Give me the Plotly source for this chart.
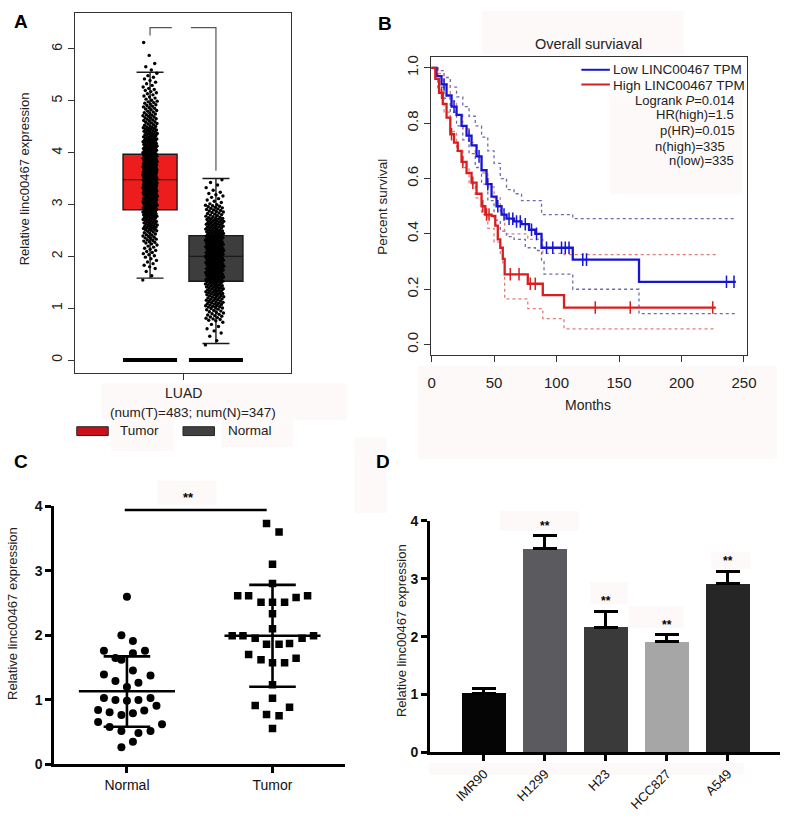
import plotly.graph_objects as go

W, H = 793, 827


def px(x):
    return x / W


def py(y):
    return 1 - y / H


FONT = "Arial, Liberation Sans, sans-serif"

# ---------------- Panel A data (box plot LUAD) ----------------
a_groups = ["Tumor", "Normal"]
a_pos = [0, 1]
a_q1 = [2.90, 1.52]
a_median = [3.48, 2.00]
a_q3 = [3.97, 2.40]
a_lowfence = [1.58, 0.32]
a_highfence = [5.55, 3.50]
a_fill = ["#ee1d1d", "#3d3d3d"]
a_legend_fill = ["#c8111a", "#404040"]
# point density: counts per 0.25 bin
a_bin_width = 0.25
tumor_bin_start = 1.5
tumor_bin_counts = [3, 8, 12, 20, 30, 40, 50, 55, 55, 50, 40, 30, 22, 18, 12, 8, 4, 1, 1]
normal_bin_start = 0.25
normal_bin_counts = [3, 6, 20, 30, 35, 40, 45, 45, 40, 35, 25, 10, 5]
a_sig_top = [6.26, 3.65]

# ---------------- Panel B data (Kaplan-Meier) ----------------
low_t = [0, 4, 8, 12, 16, 20, 24, 28, 32, 36, 40, 44, 48, 52, 56, 60, 66, 72, 78, 83, 88, 113, 166, 243.5]
low_s = [1.0, 0.97, 0.94, 0.90, 0.86, 0.83, 0.79, 0.755, 0.72, 0.68, 0.63, 0.58, 0.535, 0.50, 0.47, 0.455,
         0.445, 0.435, 0.415, 0.40, 0.35, 0.307, 0.227, 0.227]
high_t = [0, 3, 6, 9, 12, 15, 18, 21, 24, 28, 32, 36, 40, 43, 48, 51, 53, 55, 57, 58.5, 77, 89, 106, 227.5]
high_s = [1.0, 0.96, 0.91, 0.87, 0.82, 0.76, 0.73, 0.70, 0.66, 0.62, 0.585, 0.545, 0.50, 0.47, 0.465, 0.43,
          0.38, 0.35, 0.31, 0.254, 0.22, 0.179, 0.134, 0.134]
low_cens = [10, 18, 30, 38, 45, 53, 58, 62, 65, 68, 71, 75, 80, 84, 92, 97, 104, 107, 110, 121, 124, 236, 242]
high_cens = [8, 16, 25, 33, 41, 44, 46, 63, 70, 79, 83, 131, 159, 225]
low_up_t = [0, 5, 10, 15, 20, 25, 30, 35, 40, 45, 50, 55, 60, 66, 72, 88, 113, 243.5]
low_up_s = [1.0, 0.99, 0.965, 0.93, 0.895, 0.86, 0.825, 0.79, 0.75, 0.70, 0.655, 0.60, 0.56, 0.545, 0.52,
            0.47, 0.455, 0.455]
low_lo_t = [0, 5, 10, 15, 20, 25, 30, 35, 40, 45, 50, 55, 60, 66, 75, 83, 88, 90, 113, 166, 243.5]
low_lo_s = [1.0, 0.93, 0.89, 0.84, 0.79, 0.74, 0.69, 0.64, 0.58, 0.52, 0.45, 0.41, 0.39, 0.38, 0.35, 0.34,
            0.30, 0.255, 0.20, 0.112, 0.112]
high_up_t = [0, 5, 10, 15, 20, 25, 30, 35, 40, 45, 50, 55, 58.5, 77, 89, 106, 227.5]
high_up_s = [1.0, 0.98, 0.94, 0.88, 0.83, 0.78, 0.73, 0.68, 0.62, 0.57, 0.53, 0.47, 0.40, 0.38, 0.33, 0.325,
             0.325]
high_lo_t = [0, 5, 10, 15, 20, 25, 30, 35, 40, 45, 50, 55, 57, 58.5, 77, 89, 106, 227.5]
high_lo_s = [1.0, 0.92, 0.84, 0.77, 0.70, 0.64, 0.58, 0.53, 0.47, 0.42, 0.37, 0.33, 0.29, 0.165, 0.13, 0.094,
             0.057, 0.057]
b_xticks = [0, 50, 100, 150, 200, 250]
b_yticks = [0.0, 0.2, 0.4, 0.6, 0.8, 1.0]
b_legend = ["Low LINC00467 TPM", "High LINC00467 TPM"]
b_stats = ["Logrank <i>P</i>=0.014", "HR(high)=1.5", "p(HR)=0.015", "n(high)=335", "n(low)=335"]

# ---------------- Panel C data (scatter) ----------------
c_cats = ["Normal", "Tumor"]
c_normal_vals = [2.595, 2.0, 1.908, 1.756, 1.756, 1.72, 1.644, 1.618, 1.389, 1.45, 1.374, 1.288, 1.262, 1.196,
                 1.023, 0.992, 0.982, 0.992, 1.023, 0.906, 0.84, 0.804, 0.763, 0.789, 0.83, 0.651, 0.616,
                 0.575, 0.514, 0.483, 0.514, 0.346, 0.26]
c_normal_jit = [0, -0.038, 0.041, -0.158, 0.124, 0.041, -0.079, -0.038, -0.158, 0.041, 0.162, -0.079, 0.079, 0,
                -0.158, -0.079, 0, 0.079, 0.162, 0.203, -0.198, -0.119, -0.038, 0.041, 0.119, -0.198, 0.241,
                -0.119, -0.038, 0.079, 0.162, 0.041, -0.038]
c_tumor_vals = [3.73, 3.60, 3.10, 2.80, 2.61, 2.61, 2.51, 2.51, 2.51, 2.585, 2.61, 2.33, 2.10, 1.99, 1.99, 1.95,
                1.86, 1.86, 1.87, 1.95, 1.99, 1.70, 1.62, 1.57, 1.57, 1.64, 1.23, 1.02, 0.91, 0.88, 0.77,
                0.75, 0.55]
c_tumor_jit = [-0.041, 0.045, 0, 0, -0.239, -0.164, -0.079, 0, 0.083, 0.162, 0.241, 0, 0, -0.277, -0.203,
               -0.119, -0.041, 0.045, 0.117, 0.203, 0.282, -0.164, -0.079, 0, 0.083, 0.162, 0, 0, -0.119,
               0.117, -0.041, 0.045, 0]
c_mean = [1.13, 1.99]
c_sd_low = [0.58, 1.20]
c_sd_high = [1.67, 2.78]

# ---------------- Panel D data (bars) ----------------
d_cells = ["IMR90", "H1299", "H23", "HCC827", "A549"]
d_vals = [1.02, 3.52, 2.16, 1.91, 2.91]
d_err = [0.09, 0.23, 0.28, 0.12, 0.22]
d_colors = ["#050505", "#5b5b5f", "#3a3a3a", "#a6a6a6", "#262626"]
d_sig = ["", "**", "**", "**", "**"]

fig = go.Figure()

# ================= Panel A =================
for i in range(2):
    fig.add_trace(go.Box(
        x=[a_pos[i]], q1=[a_q1[i]], median=[a_median[i]], q3=[a_q3[i]],
        lowerfence=[a_lowfence[i]], upperfence=[a_highfence[i]],
        width=0.82, whiskerwidth=0.5, fillcolor=a_fill[i],
        line=dict(color="#1a1a1a", width=1.4), boxpoints=False,
        xaxis="x", yaxis="y", showlegend=False, hoverinfo="skip"))
    # zero bars
    fig.add_trace(go.Scatter(
        x=[a_pos[i] - 0.41, a_pos[i] + 0.41], y=[0, 0], mode="lines",
        line=dict(color="#000000", width=4), xaxis="x", yaxis="y", showlegend=False, hoverinfo="skip"))


def strip_points(start, counts, center, half):
    xs, ys = [], []
    k = 0
    for i, n in enumerate(counts):
        lo = start + i * a_bin_width
        for j in range(n):
            ys.append(lo + (j + 0.5) / n * a_bin_width)
            g = (k * 0.6180339887) % 1.0
            xs.append(center + (g - 0.5) * 2 * half)
            k += 1
    return xs, ys


tx, ty = strip_points(tumor_bin_start, tumor_bin_counts, a_pos[0] + 0.0, 0.11)
nx, ny = strip_points(normal_bin_start, normal_bin_counts, a_pos[1] - 0.02, 0.14)
fig.add_trace(go.Scatter(x=tx + nx, y=ty + ny, mode="markers",
                         marker=dict(color="#000000", size=3.4),
                         xaxis="x", yaxis="y", showlegend=False, hoverinfo="skip"))
# significance bracket
fig.add_trace(go.Scatter(x=[a_pos[0], a_pos[0], 0.33], y=[a_sig_top[0], 6.41, 6.41], mode="lines",
                         line=dict(color="#555555", width=1.2), xaxis="x", yaxis="y",
                         showlegend=False, hoverinfo="skip"))
fig.add_trace(go.Scatter(x=[0.62, a_pos[1], a_pos[1]], y=[6.41, 6.41, a_sig_top[1]], mode="lines",
                         line=dict(color="#555555", width=1.2), xaxis="x", yaxis="y",
                         showlegend=False, hoverinfo="skip"))

# ================= Panel B =================


def step_at(ts, vs, t):
    v = vs[0]
    for tt, vv in zip(ts, vs):
        if tt <= t:
            v = vv
    return v


for ts, vs, col in [(low_up_t, low_up_s, "#6c6cb0"), (low_lo_t, low_lo_s, "#6c6cb0"),
                    (high_up_t, high_up_s, "#e07c7c"), (high_lo_t, high_lo_s, "#e07c7c")]:
    fig.add_trace(go.Scatter(x=ts, y=vs, mode="lines", line=dict(color=col, width=1.3, dash="dot", shape="hv"),
                             xaxis="x2", yaxis="y2", showlegend=False, hoverinfo="skip"))
for ts, vs, col in [(low_t, low_s, "#1616d2"), (high_t, high_s, "#d81e1e")]:
    fig.add_trace(go.Scatter(x=ts, y=vs, mode="lines", line=dict(color=col, width=2.3, shape="hv"),
                             xaxis="x2", yaxis="y2", showlegend=False, hoverinfo="skip"))
for cens, ts, vs, col in [(low_cens, low_t, low_s, "#1616d2"), (high_cens, high_t, high_s, "#d81e1e")]:
    fig.add_trace(go.Scatter(x=cens, y=[step_at(ts, vs, c) for c in cens], mode="markers",
                             marker=dict(symbol="line-ns", size=9, line=dict(color=col, width=1.5)),
                             xaxis="x2", yaxis="y2", showlegend=False, hoverinfo="skip"))

# ================= Panel C =================
c_pos = [0, 1]
fig.add_trace(go.Scatter(x=[c_pos[0] + j for j in c_normal_jit], y=c_normal_vals, mode="markers",
                         marker=dict(symbol="circle", size=8, color="#000000"),
                         xaxis="x3", yaxis="y3", showlegend=False, hoverinfo="skip"))
fig.add_trace(go.Scatter(x=[c_pos[1] + j for j in c_tumor_jit], y=c_tumor_vals, mode="markers",
                         marker=dict(symbol="square", size=7.5, color="#000000"),
                         xaxis="x3", yaxis="y3", showlegend=False, hoverinfo="skip"))
for i in range(2):
    c = c_pos[i]
    for xs, ys in [([c - 0.33, c + 0.33], [c_mean[i]] * 2),
                   ([c - 0.16, c + 0.16], [c_sd_low[i]] * 2),
                   ([c - 0.16, c + 0.16], [c_sd_high[i]] * 2),
                   ([c, c], [c_sd_low[i], c_sd_high[i]])]:
        fig.add_trace(go.Scatter(x=xs, y=ys, mode="lines", line=dict(color="#000000", width=2.6),
                                 xaxis="x3", yaxis="y3", showlegend=False, hoverinfo="skip"))
fig.add_trace(go.Scatter(x=[c_pos[0] - 0.015, c_pos[1] - 0.04], y=[3.94, 3.94], mode="lines",
                         line=dict(color="#000000", width=2.6), xaxis="x3", yaxis="y3",
                         showlegend=False, hoverinfo="skip", cliponaxis=False))

# ================= Panel D =================
d_pos = list(range(len(d_cells)))
fig.add_trace(go.Bar(x=d_pos, y=d_vals, width=0.71, marker=dict(color=d_colors, line=dict(width=0)),
                     error_y=dict(type="data", symmetric=False, array=d_err, arrayminus=[0] * len(d_err),
                                  color="#000000", thickness=3, width=12),
                     xaxis="x4", yaxis="y4", showlegend=False, hoverinfo="skip"))

# ---------------- axes ----------------
frame = dict(showline=True, mirror=True, linecolor="#333333", linewidth=1.3, showgrid=False, zeroline=False,
             ticks="outside", ticklen=6, tickcolor="#333333",
             tickfont=dict(family=FONT, size=14, color="#222222"))
open_ax = dict(showline=True, mirror=False, linecolor="#000000", linewidth=2.6, showgrid=False, zeroline=False,
               ticks="outside", ticklen=6, tickwidth=2.6, tickcolor="#000000",
               tickfont=dict(family=FONT, size=14, color="#111111", weight="bold"))

layout = dict(
    width=W, height=H, margin=dict(l=0, r=0, t=0, b=0),
    paper_bgcolor="#ffffff", plot_bgcolor="rgba(0,0,0,0)", bargap=0,
    xaxis=dict(frame, domain=[px(73), px(293)], range=[-1.142, 2.142], tickvals=[0.5], ticktext=[""],
               anchor="y", fixedrange=True),
    yaxis=dict(frame, domain=[py(372), py(5)], range=[-0.246, 6.695], tickvals=[0, 1, 2, 3, 4, 5, 6],
               tickangle=-90, anchor="x"),
    xaxis2=dict(frame, domain=[px(435), px(756)], range=[-0.55, 252.1], tickvals=b_xticks, anchor="y2",
                ticklabelstandoff=8, tickfont=dict(family=FONT, size=15, color="#222222")),
    yaxis2=dict(frame, domain=[py(354), py(50)], range=[-0.038, 1.039], tickvals=b_yticks,
                ticktext=["%.1f" % v for v in b_yticks], tickangle=-90, anchor="x2",
                tickfont=dict(family=FONT, size=15, color="#222222")),
    xaxis3=dict(open_ax, domain=[px(52), px(348)], range=[-0.5, 1.5], tickvals=c_pos, ticktext=c_cats,
                anchor="y3", tickfont=dict(family=FONT, size=14, color="#111111")),
    yaxis3=dict(open_ax, domain=[py(771), py(508)], range=[0, 4], tickvals=[0, 1, 2, 3, 4], anchor="x3"),
    xaxis4=dict(open_ax, domain=[px(434), px(790)], range=[-0.887, 4.855], tickvals=d_pos, ticktext=d_cells,
                tickangle=-45, anchor="y4", tickfont=dict(family=FONT, size=13, color="#111111")),
    yaxis4=dict(open_ax, domain=[py(759), py(523)], range=[0, 4], tickvals=[0, 1, 2, 3, 4], anchor="x4"),
)

# ---------------- faint background patches ----------------
patches = [(100, 383, 350, 420), (110, 420, 173, 452), (222, 420, 295, 448), (357, 438, 380, 450),
           (487, 3, 692, 47), (617, 90, 752, 190), (422, 365, 787, 460), (358, 438, 390, 515),
           (157, 482, 217, 507), (505, 513, 585, 533), (597, 585, 635, 608), (636, 610, 692, 632),
           (720, 555, 760, 572), (433, 770, 753, 782)]
shapes = []
for x0, y0, x1, y1 in patches:
    shapes.append(dict(type="rect", xref="paper", yref="paper", x0=px(x0), x1=px(x1), y0=py(y1), y1=py(y0),
                       fillcolor="#fdf9f8", line=dict(width=0), layer="below"))
# legend swatches for A
for x0, col in [(75, a_legend_fill[0]), (183, a_legend_fill[1])]:
    shapes.append(dict(type="rect", xref="paper", yref="paper", x0=px(x0), x1=px(x0 + 32), y0=py(436),
                       y1=py(427), fillcolor=col, line=dict(color="#222222", width=1)))
# legend lines for B
for yy, col in [(63, "#1616d2"), (78, "#d81e1e")]:
    shapes.append(dict(type="line", xref="paper", yref="paper", x0=px(588), x1=px(617), y0=py(yy), y1=py(yy),
                       line=dict(color=col, width=2)))
layout["shapes"] = shapes

ann = []


def text(x, y, s, size=13, xanchor="center", angle=0, bold=False, color="#222222"):
    ann.append(dict(xref="paper", yref="paper", x=px(x), y=py(y), text=("<b>%s</b>" % s) if bold else s,
                    showarrow=False, xanchor=xanchor, yanchor="middle", textangle=angle,
                    font=dict(family=FONT, size=size, color=color)))


# panel letters
text(18, 14, "A", 19, bold=True, color="#000000")
text(388, 16, "B", 19, bold=True, color="#000000")
text(18, 462, "C", 19, bold=True, color="#000000")
text(386, 462, "D", 19, bold=True, color="#000000")
# panel A texts
text(22, 174, "Relative linc00467 expression", 13, angle=-90)
text(183, 393, "LUAD", 14)
text(193, 412, "(num(T)=483; num(N)=347)", 13.5)
text(117, 431, a_groups[0], 13.5, xanchor="left")
text(227, 431, a_groups[1], 13.5, xanchor="left")
# panel B texts
text(595, 37, "Overall surviaval", 14.5)
text(595, 405, "Months", 14)
text(385, 203, "Percent survival", 13.5, angle=-90)
text(618, 63, b_legend[0], 13.5, xanchor="left")
text(618, 79, b_legend[1], 13.5, xanchor="left")
stat_y = [94, 109, 125, 141, 156]
stat_x = [745, 745, 746, 736, 745]
for s, yy, xx in zip(b_stats, stat_y, stat_x):
    text(xx, yy, s, 13, xanchor="right")
# panel C texts
text(9, 617, "Relative linc00467 expression", 13, angle=-90)
text(189, 499, "**", 13, bold=True, color="#000000")
# panel D texts
text(405, 635, "Relative linc00467 expression", 13, angle=-90)
for i, s in enumerate(d_sig):
    if s:
        ann.append(dict(xref="x4", yref="y4", x=d_pos[i], y=d_vals[i] + d_err[i] + 0.17, text="<b>%s</b>" % s,
                        showarrow=False, yanchor="middle", font=dict(family=FONT, size=12, color="#000000")))
layout["annotations"] = ann

fig.update_layout(**layout)
fig.write_html("out.html", config={"displayModeBar": False},
               post_script="document.body.style.margin='0';document.body.style.overflow='hidden';")
